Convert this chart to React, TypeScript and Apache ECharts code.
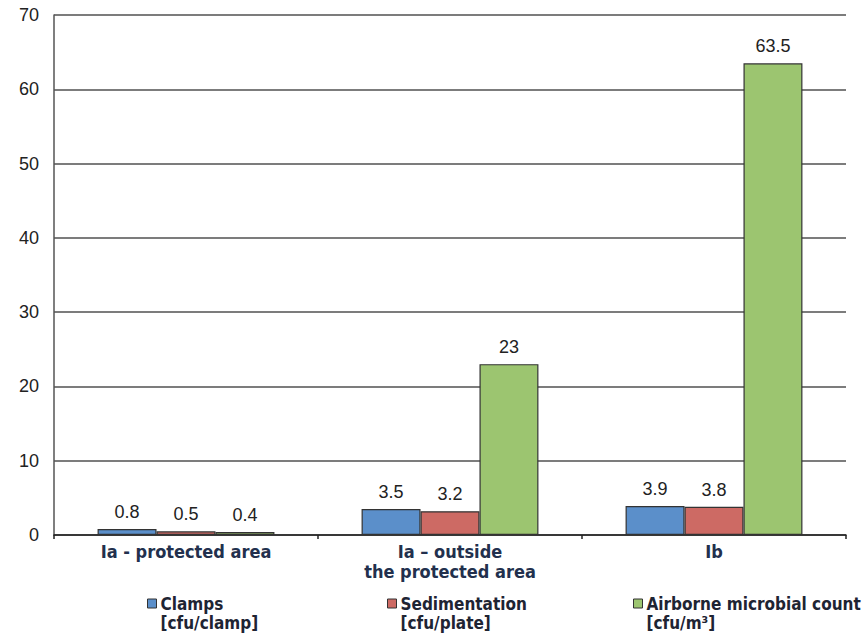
import React, { useEffect, useRef } from "react";
import * as echarts from "echarts";

const categories = ["Ia - protected area", "Ia – outside\nthe protected area", "Ib"];
const seriesNames = ["Clamps", "Sedimentation", "Airborne microbial count"];
const seriesUnits = ["[cfu/clamp]", "[cfu/plate]", "[cfu/m³]"];
const clamps = [0.8, 3.5, 3.9];
const sedimentation = [0.5, 3.2, 3.8];
const airborne = [0.4, 23, 63.5];
const yTicks = { min: 0, max: 70, interval: 10 };

const colors = ["#5b8fca", "#cd6a64", "#9cc570"];
const legendLeft = [147, 387, 633];

const narrowBold = "'Liberation Sans Narrow', 'DejaVu Sans Condensed', 'Liberation Sans', sans-serif";
const plain = "'Liberation Sans', Arial, sans-serif";

export default function App() {
  const ref = useRef<HTMLDivElement>(null);

  useEffect(() => {
    document.body.style.margin = "0";
    if (!ref.current) return;
    const chart = echarts.init(ref.current, null, { renderer: "svg" });
    const values = [clamps, sedimentation, airborne];

    chart.setOption({
      animation: false,
      backgroundColor: "#ffffff",
      grid: { left: 54, right: 21, top: 15, bottom: 98, containLabel: false },
      // one legend per series so each entry sits at its own x position;
      // the leading blank line keeps the swatch level with the series name
      legend: seriesNames.map((name, i) => ({
        data: [name],
        left: legendLeft[i],
        top: 575,
        padding: 0,
        itemWidth: 9,
        itemHeight: 9,
        itemGap: 0,
        icon: "rect",
        selectedMode: false,
        itemStyle: { borderColor: "#333", borderWidth: 1 },
        formatter: () => `\n${name}\n${seriesUnits[i]}`,
        textStyle: {
          fontFamily: narrowBold,
          fontWeight: "bold",
          fontSize: 17,
          lineHeight: 19,
          color: "#1e2433",
          padding: [0, 0, 0, -1],
        },
      })),
      xAxis: {
        type: "category",
        data: categories,
        axisLine: { lineStyle: { color: "#222", width: 1.5 } },
        axisTick: { show: true, length: 4, lineStyle: { color: "#222", width: 1.5 } },
        axisLabel: {
          margin: 6,
          fontFamily: narrowBold,
          fontWeight: "bold",
          fontSize: 18,
          lineHeight: 20,
          color: "#22304d",
          interval: 0,
        },
      },
      yAxis: {
        type: "value",
        min: yTicks.min,
        max: yTicks.max,
        interval: yTicks.interval,
        axisLine: { show: true, lineStyle: { color: "#555", width: 1.5 } },
        axisTick: { show: false },
        splitLine: { lineStyle: { color: "#505050", width: 1.5 } },
        axisLabel: { margin: 15, fontFamily: plain, fontSize: 18, color: "#222" },
      },
      series: seriesNames.map((name, i) => ({
        name,
        type: "bar",
        data: values[i],
        barGap: "0%",
        barCategoryGap: "33%",
        itemStyle: { color: colors[i], borderColor: "#333", borderWidth: 1.2 },
        label: {
          show: true,
          position: "top",
          distance: 8,
          fontFamily: plain,
          fontSize: 18,
          color: "#222",
        },
      })),
    });

    return () => chart.dispose();
  }, []);

  return <div ref={ref} style={{ width: 867, height: 633 }} />;
}
